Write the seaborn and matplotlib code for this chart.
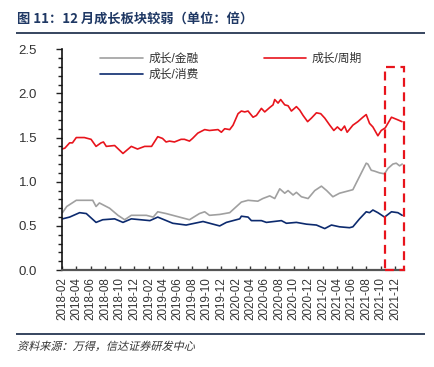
import pandas as pd
import numpy as np
import seaborn as sns
import matplotlib.pyplot as plt
import matplotlib.dates as mdates
from matplotlib.patches import Rectangle, PathPatch
from matplotlib.ticker import MultipleLocator
from matplotlib.textpath import TextPath
from matplotlib.font_manager import FontProperties
from matplotlib.transforms import Affine2D

# Data
CYCLE_DATES = ['2018-02-01', '2018-02-13', '2018-03-05', '2018-03-17', '2018-04-02', '2018-05-06',
               '2018-06-03', '2018-06-24', '2018-07-15', '2018-07-25', '2018-08-06', '2018-09-10',
               '2018-10-15', '2018-11-19', '2018-12-15', '2019-01-14', '2019-02-12', '2019-03-10',
               '2019-03-30', '2019-04-14', '2019-04-28', '2019-05-19', '2019-06-16', '2019-06-30',
               '2019-07-21', '2019-08-03', '2019-08-25', '2019-09-23', '2019-10-13', '2019-11-18',
               '2019-12-02', '2019-12-16', '2020-01-06', '2020-01-20', '2020-02-10', '2020-02-24',
               '2020-03-09', '2020-03-23', '2020-04-13', '2020-04-27', '2020-05-18', '2020-06-01',
               '2020-06-22', '2020-07-06', '2020-07-13', '2020-07-27', '2020-08-07', '2020-08-24',
               '2020-09-07', '2020-09-21', '2020-10-12', '2020-10-26', '2020-11-09', '2020-11-28',
               '2020-12-14', '2021-01-04', '2021-01-22', '2021-02-08', '2021-03-01', '2021-03-18',
               '2021-04-02', '2021-04-18', '2021-05-02', '2021-05-13', '2021-06-06', '2021-06-27',
               '2021-07-18', '2021-08-01', '2021-08-15', '2021-08-29', '2021-09-19', '2021-10-03',
               '2021-10-20', '2021-11-15', '2021-12-12', '2021-12-29']
CYCLE = [1.37, 1.38, 1.44, 1.44, 1.50, 1.50, 1.48, 1.40, 1.44, 1.45, 1.40, 1.41,
         1.32, 1.40, 1.37, 1.40, 1.40, 1.51, 1.49, 1.45, 1.46, 1.45, 1.48, 1.48,
         1.46, 1.49, 1.55, 1.59, 1.58, 1.59, 1.56, 1.60, 1.59, 1.64, 1.77, 1.80,
         1.79, 1.80, 1.73, 1.75, 1.83, 1.79, 1.84, 1.87, 1.93, 1.89, 1.93, 1.87,
         1.86, 1.80, 1.85, 1.81, 1.75, 1.68, 1.72, 1.78, 1.77, 1.72, 1.64, 1.58,
         1.62, 1.58, 1.63, 1.56, 1.64, 1.68, 1.73, 1.76, 1.66, 1.62, 1.52, 1.58,
         1.61, 1.73, 1.70, 1.68]

FIN_DATES = ['2018-02-03', '2018-02-21', '2018-04-02', '2018-06-10', '2018-06-24', '2018-07-08',
             '2018-08-20', '2018-09-24', '2018-10-22', '2018-11-19', '2019-01-21', '2019-02-19',
             '2019-03-10', '2019-04-14', '2019-06-09', '2019-07-21', '2019-09-01', '2019-09-23',
             '2019-10-13', '2019-11-25', '2020-01-06', '2020-02-24', '2020-03-23', '2020-05-03',
             '2020-05-24', '2020-06-22', '2020-07-13', '2020-08-03', '2020-08-24', '2020-09-07',
             '2020-09-28', '2020-10-12', '2020-11-02', '2020-11-30', '2020-12-28', '2021-01-25',
             '2021-02-16', '2021-03-14', '2021-04-11', '2021-05-09', '2021-06-06', '2021-07-04',
             '2021-08-01', '2021-08-08', '2021-08-22', '2021-09-05', '2021-09-26', '2021-10-17',
             '2021-10-31', '2021-11-21', '2021-12-05', '2021-12-19', '2021-12-30']
FIN = [0.65, 0.72, 0.79, 0.79, 0.72, 0.76, 0.70, 0.62, 0.57, 0.62, 0.62, 0.60,
       0.66, 0.64, 0.60, 0.57, 0.64, 0.66, 0.62, 0.63, 0.65, 0.77, 0.79, 0.78,
       0.81, 0.84, 0.81, 0.92, 0.87, 0.90, 0.85, 0.88, 0.83, 0.81, 0.90, 0.95,
       0.90, 0.83, 0.87, 0.89, 0.91, 1.06, 1.21, 1.20, 1.13, 1.12, 1.10, 1.09,
       1.15, 1.20, 1.21, 1.18, 1.20]

CONS_DATES = ['2018-02-03', '2018-03-05', '2018-04-16', '2018-05-14', '2018-06-24', '2018-07-22',
              '2018-09-10', '2018-10-15', '2018-11-19', '2019-02-05', '2019-03-10', '2019-05-12',
              '2019-07-07', '2019-09-16', '2019-11-25', '2019-12-23', '2020-02-17', '2020-02-24',
              '2020-03-23', '2020-04-06', '2020-05-18', '2020-06-08', '2020-08-10', '2020-08-31',
              '2020-10-12', '2020-11-23', '2021-01-04', '2021-02-08', '2021-03-08', '2021-04-11',
              '2021-05-23', '2021-06-06', '2021-07-04', '2021-08-01', '2021-08-15', '2021-08-29',
              '2021-09-19', '2021-10-17', '2021-11-15', '2021-12-12', '2021-12-30']
CONS = [0.58, 0.60, 0.65, 0.64, 0.54, 0.57, 0.58, 0.54, 0.58, 0.56, 0.60, 0.53,
        0.51, 0.55, 0.50, 0.54, 0.58, 0.61, 0.60, 0.56, 0.56, 0.54, 0.56, 0.53,
        0.54, 0.52, 0.51, 0.47, 0.51, 0.49, 0.48, 0.49, 0.58, 0.66, 0.65, 0.68,
        0.65, 0.60, 0.66, 0.65, 0.62]

HIGHLIGHT_START = '2021-10-17'
HIGHLIGHT_END = '2022-01-07'
HIGHLIGHT_TOP = 2.30

TITLE = '图 11：12 月成长板块较弱（单位：倍）'
SOURCE = '资料来源：万得，信达证券研发中心'

sns.set_style('white')
plt.rcParams['font.family'] = ['Liberation Sans', 'Noto Sans CJK SC', 'DejaVu Sans']
plt.rcParams['axes.unicode_minus'] = False

frames = []
for name, dates, vals in [('成长/金融', FIN_DATES, FIN),
                          ('成长/消费', CONS_DATES, CONS),
                          ('成长/周期', CYCLE_DATES, CYCLE)]:
    frames.append(pd.DataFrame({'date': pd.to_datetime(dates), 'value': vals, 'series': name}))
df = pd.concat(frames, ignore_index=True)
palette = {'成长/金融': '#a0a0a0', '成长/消费': '#0c2a6e', '成长/周期': '#e8141c'}

fig = plt.figure(figsize=(4.35, 3.67), dpi=100)
ax = fig.add_axes([0.1425, 0.264, 0.787, 0.602])
sns.lineplot(data=df, x='date', y='value', hue='series', palette=palette,
             hue_order=['成长/金融', '成长/消费', '成长/周期'], linewidth=1.2, ax=ax)

ax.set_xlim(pd.Timestamp('2018-02-01'), pd.Timestamp('2022-01-08'))
ax.set_ylim(0, 2.5)
ax.set_xlabel('')
ax.set_ylabel('')

ax.yaxis.set_major_locator(MultipleLocator(0.5))
ax.yaxis.set_minor_locator(MultipleLocator(0.1))
ax.yaxis.set_major_formatter(plt.FuncFormatter(lambda v, p: f'{v:.1f}'))
ax.tick_params(axis='y', which='major', direction='out', length=4, width=1, color='#222222',
               labelsize=9.5, labelcolor='#333333', left=True, pad=14)
ax.tick_params(axis='y', which='minor', direction='out', length=3, width=1, color='#222222', left=True)

ax.xaxis.set_major_locator(mdates.MonthLocator(bymonth=[2, 4, 6, 8, 10, 12]))
ax.xaxis.set_major_formatter(mdates.DateFormatter('%Y-%m'))
ax.tick_params(axis='x', which='major', direction='in', length=3, width=1, color='#333333',
               labelsize=8.4, labelcolor='#333333', bottom=True, pad=5)
for lbl in ax.get_xticklabels():
    lbl.set_rotation(90)

for s in ['top', 'right']:
    ax.spines[s].set_visible(False)
ax.spines['left'].set_color('#111111')
ax.spines['left'].set_linewidth(1.2)
ax.spines['bottom'].set_color('#555555')
ax.spines['bottom'].set_linewidth(1.6)

x0 = mdates.date2num(pd.Timestamp(HIGHLIGHT_START))
x1 = mdates.date2num(pd.Timestamp(HIGHLIGHT_END))
ax.add_patch(Rectangle((x0, 0), x1 - x0, HIGHLIGHT_TOP, fill=False, edgecolor='#e8141c',
                       linestyle=(0, (4, 2.5)), linewidth=1.6, clip_on=False, zorder=5))

leg = ax.legend(ncol=2, loc='upper left', bbox_to_anchor=(0.08, 1.03), frameon=False,
                fontsize=8.5, handlelength=3.6, columnspacing=5.5, labelspacing=0.35,
                handletextpad=0.5)
for t in leg.get_texts():
    t.set_color('#333333')

fig.text(0.04, 0.967, TITLE, fontsize=9.5, fontweight='bold', color='#1f3864', va='top',
         family=['Noto Sans CJK SC', 'DejaVu Sans'])

# rules under the title and above the source note: tiny filled axes
for rule_rect in ([0.037, 0.906, 0.94, 0.008], [0.037, 0.086, 0.94, 0.006]):
    rule = fig.add_axes(rule_rect)
    rule.set_facecolor('#3b4a63')
    rule.set_xticks([])
    rule.set_yticks([])
    for sp in rule.spines.values():
        sp.set_visible(False)

# source note, slanted like the original italic
src_path = TextPath((0, 0), SOURCE, size=8, prop=FontProperties(family='Noto Sans CJK SC'))
src_tr = Affine2D().scale(1 / 72).skew_deg(14, 0).translate(0.17, 0.17) + fig.dpi_scale_trans
fig.add_artist(PathPatch(src_path, transform=src_tr, facecolor='#333333', edgecolor='none'))

fig.savefig('out.png', dpi=100)
